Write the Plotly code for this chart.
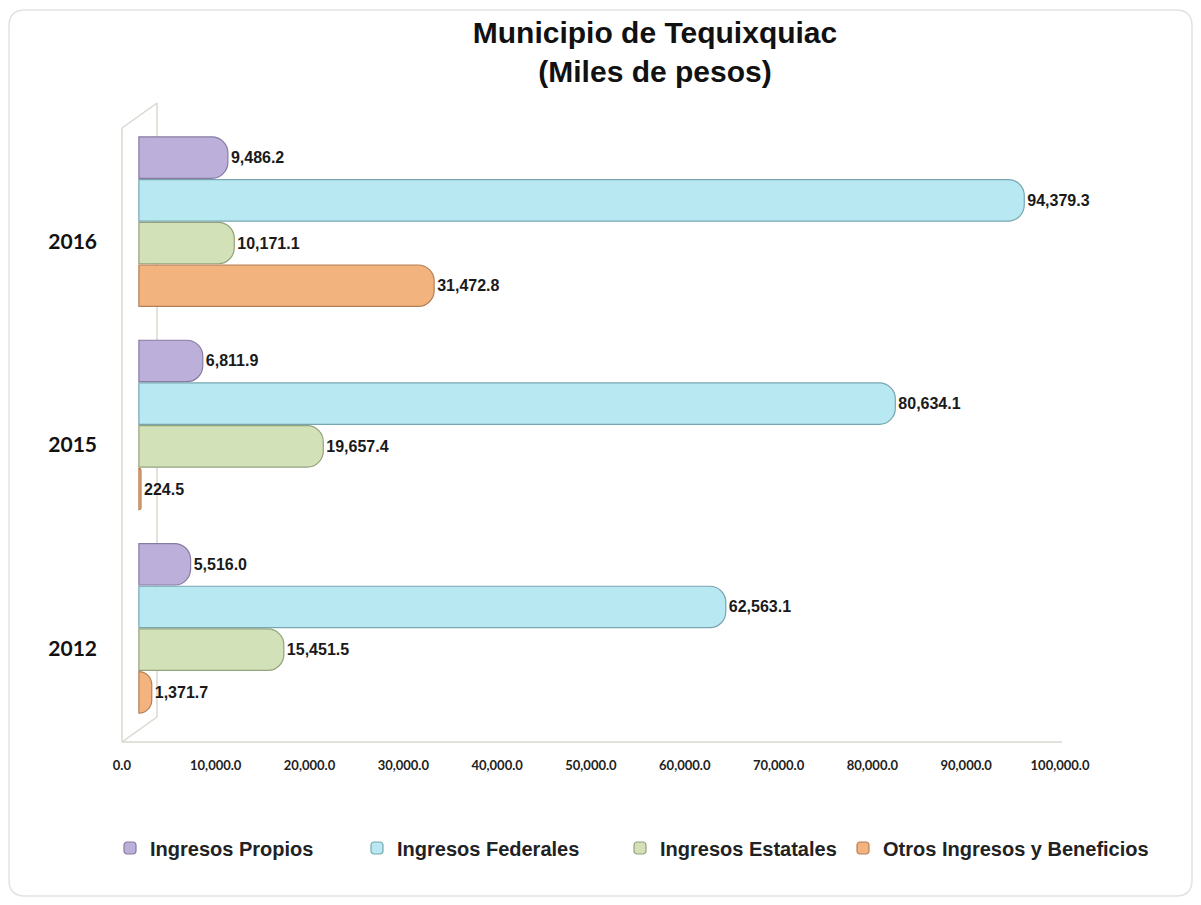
import plotly.graph_objects as go

# ── datos (miles de pesos) ──────────────────────────────────────────────
anios = ['2016', '2015', '2012']
series = ['Ingresos Propios', 'Ingresos Federales', 'Ingresos Estatales',
          'Otros Ingresos y Beneficios']
propios = [9486.2, 6811.9, 5516.0]
federales = [94379.3, 80634.1, 62563.1]
estatales = [10171.1, 19657.4, 15451.5]
otros = [31472.8, 224.5, 1371.7]
valores = [propios, federales, estatales, otros]

x_ticks = [0, 10000, 20000, 30000, 40000, 50000, 60000, 70000, 80000, 90000, 100000]
x_tick_labels = ['0.0', '10,000.0', '20,000.0', '30,000.0', '40,000.0', '50,000.0',
                 '60,000.0', '70,000.0', '80,000.0', '90,000.0', '100,000.0']

relleno = ['#BCB0DA', '#B8E9F3', '#D2E1B8', '#F2B37F']
borde = ['#877BA3', '#77A5B1', '#93A37C', '#B47F55']

# ── geometría (px de la imagen de referencia; el body tiene 8px de margen) ──
OFF = 8
W, H = 1185, 889
L, R, T, B = 122, 1077, 120, 730  # área de trazado
leyenda_x = [110, 357, 620, 843]  # inicio de cada entrada de la leyenda


def px(x):
    return (x - L) / (R - L)


def py(y):
    return (B - y) / (B - T)


fig = go.Figure()
for i, (nombre, vals, c, lc) in enumerate(zip(series, valores, relleno, borde)):
    fig.add_trace(go.Bar(
        y=anios, x=vals, name=nombre, orientation='h',
        legend=f'legend{i + 2}',
        marker=dict(color=c, line=dict(color=lc, width=1.2), cornerradius=16),
        text=vals, texttemplate='%{x:,.1f}', textposition='outside',
        textfont=dict(family='Liberation Sans, Arial', size=16, color='#1a1a1a',
                      weight='bold'),
        constraintext='none', cliponaxis=False,
    ))

# pared y piso del gráfico 3D
gris = '#D8D8CF'
lineas = [
    ((122, 128), (122, 742)),
    ((157, 103), (157, 717)),
    ((122, 128), (157, 103)),
    ((122, 742), (157, 717)),
    ((122, 742), (1062, 742)),
]
shapes = []
for (x0, y0), (x1, y1) in lineas:
    shapes.append(dict(type='line', xref='paper', yref='paper',
                       x0=px(x0), y0=py(y0), x1=px(x1), y1=py(y1),
                       line=dict(color=gris, width=1.5), layer='below'))

# marco redondeado de la tarjeta
x0, y0, x1, y1, r = 9, 10, 1192, 896, 16
path = (f'M {px(x0 + r)},{py(y0)} L {px(x1 - r)},{py(y0)} '
        f'Q {px(x1)},{py(y0)} {px(x1)},{py(y0 + r)} '
        f'L {px(x1)},{py(y1 - r)} Q {px(x1)},{py(y1)} {px(x1 - r)},{py(y1)} '
        f'L {px(x0 + r)},{py(y1)} Q {px(x0)},{py(y1)} {px(x0)},{py(y1 - r)} '
        f'L {px(x0)},{py(y0 + r)} Q {px(x0)},{py(y0)} {px(x0 + r)},{py(y0)} Z')
shapes.append(dict(type='path', xref='paper', yref='paper', path=path,
                   line=dict(color='#E2E2E2', width=1.5), layer='below'))

fuente_leyenda = dict(family='Liberation Sans, Arial', size=20, color='#222',
                      weight='bold')
leyendas = {}
for i, lx in enumerate(leyenda_x):
    leyendas[f'legend{i + 2}'] = dict(orientation='h', x=px(lx), xanchor='left',
                                      y=py(848), yanchor='middle',
                                      font=fuente_leyenda, itemwidth=30)

fig.update_layout(
    width=W, height=H,
    margin=dict(l=L - OFF, r=W + OFF - R, t=T - OFF, b=H + OFF - B),
    paper_bgcolor='white', plot_bgcolor='white',
    title=dict(text='<b>Municipio de Tequixquiac<br>(Miles de pesos)</b>',
               x=(655 - OFF) / W, xanchor='center', y=1 - (43 - OFF) / H,
               yanchor='middle',
               font=dict(family='Liberation Sans, Arial', size=30, color='#111')),
    barmode='group', bargap=0.16, bargroupgap=0.03,
    xaxis=dict(range=[-1800, 100000], tickvals=x_ticks, ticktext=x_tick_labels,
               showgrid=False, zeroline=False, showline=False, ticks='',
               ticklabelshift=-17, ticklabelstandoff=26,
               tickfont=dict(family='Lato', size=13, color='#222', weight='bold')),
    yaxis=dict(autorange='reversed', showgrid=False, zeroline=False, showline=False,
               ticks='', ticklabelstandoff=24, ticklabelshift=-20,
               tickfont=dict(family='Lato', size=21, color='#111', weight='bold')),
    shapes=shapes,
    font=dict(family='Liberation Sans, Arial'),
    **leyendas,
)

fig.write_html('out.html')
